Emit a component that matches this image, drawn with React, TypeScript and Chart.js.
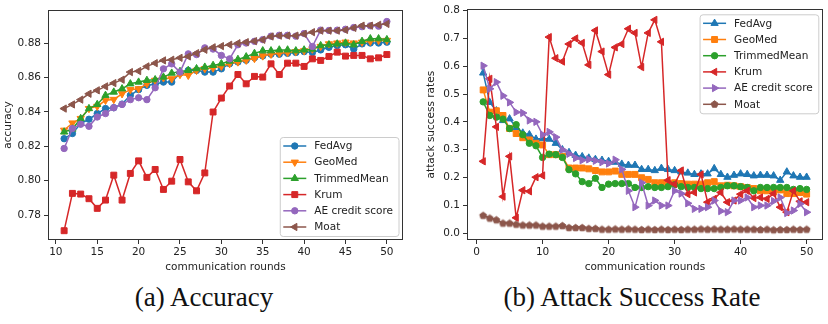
import React, { useEffect, useRef } from 'react';
import { Chart, registerables } from 'chart.js';

Chart.register(...registerables);

// ---------- data: (a) accuracy ----------
const accRounds = [11, 12, 13, 14, 15, 16, 17, 18, 19, 20, 21, 22, 23, 24, 25, 26, 27, 28, 29, 30,
  31, 32, 33, 34, 35, 36, 37, 38, 39, 40, 41, 42, 43, 44, 45, 46, 47, 48, 49, 50];

const accFedAvg = [0.8244, 0.8274, 0.8332, 0.8357, 0.8390, 0.8419, 0.8424, 0.8445, 0.8496, 0.8529,
  0.8554, 0.8560, 0.8573, 0.8573, 0.8625, 0.8641, 0.8641, 0.8631, 0.8631, 0.8650,
  0.8680, 0.8690, 0.8700, 0.8715, 0.8725, 0.8735, 0.8735, 0.8740, 0.8745, 0.8750,
  0.8745, 0.8760, 0.8775, 0.8785, 0.8790, 0.8765, 0.8795, 0.8800, 0.8800, 0.8805];
const accGeoMed = [0.8293, 0.8335, 0.8361, 0.8419, 0.8432, 0.8467, 0.8472, 0.8505, 0.8529, 0.8534,
  0.8563, 0.8583, 0.8598, 0.8592, 0.8617, 0.8612, 0.8641, 0.8651, 0.8655, 0.8665,
  0.8680, 0.8690, 0.8700, 0.8710, 0.8725, 0.8735, 0.8740, 0.8745, 0.8750, 0.8755,
  0.8765, 0.8780, 0.8795, 0.8800, 0.8805, 0.8800, 0.8805, 0.8810, 0.8815, 0.8815];
const accTrimmedMean = [0.8283, 0.8300, 0.8361, 0.8419, 0.8443, 0.8496, 0.8515, 0.8534, 0.8563, 0.8573,
  0.8583, 0.8587, 0.8602, 0.8625, 0.8635, 0.8641, 0.8651, 0.8660, 0.8670, 0.8680,
  0.8695, 0.8705, 0.8720, 0.8740, 0.8755, 0.8755, 0.8760, 0.8760, 0.8755, 0.8760,
  0.8765, 0.8785, 0.8790, 0.8795, 0.8800, 0.8790, 0.8810, 0.8825, 0.8825, 0.8820];
const accKrum = [0.7709, 0.7926, 0.7922, 0.7895, 0.7839, 0.7887, 0.8032, 0.7887, 0.8042, 0.8115,
  0.8019, 0.8065, 0.7949, 0.7997, 0.8123, 0.7993, 0.7941, 0.8045, 0.8399, 0.8480,
  0.8550, 0.8617, 0.8563, 0.8606, 0.8602, 0.8679, 0.8617, 0.8683, 0.8683, 0.8664,
  0.8708, 0.8699, 0.8722, 0.8747, 0.8724, 0.8728, 0.8728, 0.8708, 0.8714, 0.8733];
const accAECredit = [0.8187, 0.8303, 0.8328, 0.8316, 0.8370, 0.8390, 0.8424, 0.8443, 0.8471, 0.8482,
  0.8471, 0.8540, 0.8650, 0.8679, 0.8631, 0.8737, 0.8733, 0.8772, 0.8765, 0.8728,
  0.8708, 0.8790, 0.8800, 0.8810, 0.8820, 0.8840, 0.8845, 0.8845, 0.8840, 0.8855,
  0.8780, 0.8875, 0.8873, 0.8875, 0.8880, 0.8890, 0.8895, 0.8900, 0.8898, 0.8925];
const accMoat = [0.8419, 0.8443, 0.8471, 0.8505, 0.8525, 0.8548, 0.8567, 0.8587, 0.8631, 0.8637,
  0.8664, 0.8683, 0.8699, 0.8703, 0.8714, 0.8722, 0.8741, 0.8761, 0.8775, 0.8782,
  0.8790, 0.8799, 0.8805, 0.8811, 0.8819, 0.8838, 0.8843, 0.8843, 0.8843, 0.8853,
  0.8863, 0.8872, 0.8872, 0.8872, 0.8876, 0.8888, 0.8901, 0.8901, 0.8906, 0.8911];

const accXTicks = [10, 15, 20, 25, 30, 35, 40, 45, 50];
const accYTicks = [0.78, 0.80, 0.82, 0.84, 0.86, 0.88];

// ---------- data: (b) attack success rate ----------
const asrRounds = [1, 2, 3, 4, 5, 6, 7, 8, 9, 10, 11, 12, 13, 14, 15, 16, 17, 18, 19, 20,
  21, 22, 23, 24, 25, 26, 27, 28, 29, 30, 31, 32, 33, 34, 35, 36, 37, 38, 39, 40,
  41, 42, 43, 44, 45, 46, 47, 48, 49, 50];

const asrFedAvg = [0.576, 0.470, 0.440, 0.405, 0.411, 0.380, 0.360, 0.354, 0.338, 0.340,
  0.338, 0.323, 0.300, 0.290, 0.280, 0.275, 0.270, 0.265, 0.262, 0.258,
  0.255, 0.248, 0.244, 0.244, 0.229, 0.229, 0.225, 0.233, 0.229, 0.225,
  0.220, 0.216, 0.211, 0.213, 0.213, 0.232, 0.211, 0.201, 0.208, 0.213,
  0.211, 0.206, 0.208, 0.208, 0.206, 0.190, 0.220, 0.206, 0.201, 0.201];
const asrGeoMed = [0.515, 0.435, 0.440, 0.423, 0.376, 0.358, 0.343, 0.335, 0.323, 0.317,
  0.282, 0.282, 0.276, 0.234, 0.234, 0.234, 0.231, 0.225, 0.220, 0.220,
  0.223, 0.211, 0.211, 0.211, 0.199, 0.193, 0.181, 0.181, 0.178, 0.181,
  0.178, 0.176, 0.176, 0.176, 0.181, 0.185, 0.170, 0.172, 0.170, 0.167,
  0.164, 0.160, 0.152, 0.152, 0.148, 0.155, 0.142, 0.142, 0.146, 0.140];
const asrTrimmedMean = [0.472, 0.423, 0.417, 0.410, 0.376, 0.390, 0.354, 0.323, 0.314, 0.272,
  0.284, 0.282, 0.272, 0.228, 0.213, 0.185, 0.178, 0.197, 0.164, 0.176,
  0.178, 0.178, 0.178, 0.164, 0.164, 0.167, 0.164, 0.164, 0.167, 0.174,
  0.167, 0.164, 0.164, 0.160, 0.160, 0.160, 0.164, 0.170, 0.170, 0.167,
  0.164, 0.152, 0.164, 0.164, 0.164, 0.164, 0.164, 0.157, 0.160, 0.157];
const asrKrum = [0.258, 0.555, 0.382, 0.131, 0.276, 0.055, 0.154, 0.150, 0.201, 0.207,
  0.705, 0.629, 0.617, 0.680, 0.700, 0.684, 0.605, 0.729, 0.653, 0.570,
  0.668, 0.680, 0.735, 0.720, 0.597, 0.720, 0.767, 0.688, 0.190, 0.176,
  0.225, 0.140, 0.146, 0.211, 0.111, 0.123, 0.146, 0.111, 0.117, 0.140,
  0.152, 0.126, 0.128, 0.123, 0.142, 0.093, 0.075, 0.152, 0.114, 0.111];
const asrAECredit = [0.602, 0.519, 0.543, 0.494, 0.470, 0.435, 0.432, 0.405, 0.400, 0.354,
  0.364, 0.345, 0.300, 0.285, 0.270, 0.262, 0.265, 0.260, 0.255, 0.250,
  0.264, 0.229, 0.152, 0.093, 0.181, 0.099, 0.117, 0.099, 0.099, 0.152,
  0.142, 0.107, 0.087, 0.087, 0.093, 0.117, 0.079, 0.075, 0.117, 0.117,
  0.128, 0.093, 0.099, 0.099, 0.115, 0.128, 0.072, 0.081, 0.105, 0.075];
const asrMoat = [0.064, 0.054, 0.048, 0.036, 0.036, 0.032, 0.029, 0.029, 0.029, 0.025,
  0.025, 0.025, 0.027, 0.020, 0.020, 0.020, 0.017, 0.017, 0.014, 0.014,
  0.015, 0.014, 0.015, 0.014, 0.013, 0.014, 0.013, 0.014, 0.013, 0.014,
  0.013, 0.014, 0.014, 0.015, 0.014, 0.015, 0.014, 0.014, 0.015, 0.014,
  0.014, 0.014, 0.013, 0.014, 0.012, 0.013, 0.013, 0.014, 0.013, 0.014];

const asrXTicks = [0, 10, 20, 30, 40, 50];
const asrYTicks = [0.0, 0.1, 0.2, 0.3, 0.4, 0.5, 0.6, 0.7, 0.8];

const seriesNames = ['FedAvg', 'GeoMed', 'TrimmedMean', 'Krum', 'AE credit score', 'Moat'];
const seriesColors = ['#1f77b4', '#ff7f0e', '#2ca02c', '#d62728', '#9467bd', '#8c564b'];

type Marker = { shape: string; rot: number; r: number };

const accMarkers: Marker[] = [
  { shape: 'circle', rot: 0, r: 3.2 },
  { shape: 'triangle', rot: 180, r: 4.2 },
  { shape: 'triangle', rot: 0, r: 4.2 },
  { shape: 'rect', rot: 0, r: 4.2 },
  { shape: 'circle', rot: 0, r: 3.2 },
  { shape: 'triangle', rot: 270, r: 4.2 },
];
const asrMarkers: Marker[] = [
  { shape: 'triangle', rot: 0, r: 4.2 },
  { shape: 'rect', rot: 0, r: 4.2 },
  { shape: 'circle', rot: 0, r: 3.2 },
  { shape: 'triangle', rot: 270, r: 4.2 },
  { shape: 'triangle', rot: 90, r: 4.2 },
  { shape: 'pentagon', rot: 0, r: 3.6 },
];

const FONT = '"DejaVu Sans", "Noto Sans", sans-serif';
const TEXT = '#222222';
const AXIS = '#333333';

function pentagonPath(ctx: CanvasRenderingContext2D, x: number, y: number, r: number) {
  ctx.beginPath();
  for (let k = 0; k < 5; k++) {
    const a = -Math.PI / 2 + (k * 2 * Math.PI) / 5;
    const px = x + r * Math.cos(a);
    const py = y + r * Math.sin(a);
    if (k === 0) ctx.moveTo(px, py); else ctx.lineTo(px, py);
  }
  ctx.closePath();
}

function makePentagon(color: string, r: number) {
  const c = document.createElement('canvas');
  const s = Math.ceil(2 * r + 3);
  c.width = s; c.height = s;
  const ctx = c.getContext('2d')!;
  pentagonPath(ctx, s / 2, s / 2 + 0.4, r);
  ctx.fillStyle = color; ctx.strokeStyle = color; ctx.lineWidth = 1;
  ctx.fill(); ctx.stroke();
  return c;
}

function drawMarker(ctx: CanvasRenderingContext2D, m: Marker, x: number, y: number, color: string) {
  ctx.save();
  ctx.fillStyle = color; ctx.strokeStyle = color; ctx.lineWidth = 1;
  if (m.shape === 'circle') {
    ctx.beginPath(); ctx.arc(x, y, m.r, 0, Math.PI * 2);
  } else if (m.shape === 'rect') {
    const s = Math.SQRT1_2 * m.r;
    ctx.beginPath(); ctx.rect(x - s, y - s, 2 * s, 2 * s);
  } else if (m.shape === 'triangle') {
    let rad = (m.rot * Math.PI) / 180;
    ctx.beginPath();
    ctx.moveTo(x + Math.sin(rad) * m.r, y - Math.cos(rad) * m.r);
    rad += (2 * Math.PI) / 3;
    ctx.lineTo(x + Math.sin(rad) * m.r, y - Math.cos(rad) * m.r);
    rad += (2 * Math.PI) / 3;
    ctx.lineTo(x + Math.sin(rad) * m.r, y - Math.cos(rad) * m.r);
    ctx.closePath();
  } else {
    pentagonPath(ctx, x, y, m.r);
  }
  ctx.fill(); ctx.stroke();
  ctx.restore();
}

const framePlugin = {
  id: 'frameAndLegend',
  afterDatasetsDraw(chart: any, _args: any, opts: any) {
    const ctx: CanvasRenderingContext2D = chart.ctx;
    const ca = chart.chartArea;
    ctx.save();
    ctx.strokeStyle = AXIS;
    ctx.lineWidth = 1;
    ctx.strokeRect(Math.round(ca.left) + 0.5, Math.round(ca.top) + 0.5,
      Math.round(ca.right - ca.left) - 1, Math.round(ca.bottom - ca.top) - 1);

    // legend inside plot
    const markers: Marker[] = opts.markers;
    ctx.font = '10.5px ' + FONT;
    let maxW = 0;
    seriesNames.forEach((n) => { maxW = Math.max(maxW, ctx.measureText(n).width); });
    const w = 34 + maxW + 6;
    const h = 99;
    const left = ca.right - opts.right - w;
    const top = opts.corner === 'br' ? ca.bottom - opts.bottom - h : ca.top + opts.top;
    ctx.beginPath();
    (ctx as any).roundRect(left, top, w, h, 3);
    ctx.fillStyle = 'rgba(255,255,255,0.8)';
    ctx.fill();
    ctx.strokeStyle = '#cccccc';
    ctx.lineWidth = 1;
    ctx.stroke();
    seriesNames.forEach((n, i) => {
      const cy = top + 8.5 + i * 16.2;
      ctx.beginPath();
      ctx.strokeStyle = seriesColors[i];
      ctx.lineWidth = 1.5;
      ctx.moveTo(left + 3, cy);
      ctx.lineTo(left + 26, cy);
      ctx.stroke();
      drawMarker(ctx, markers[i], left + 14.5, cy, seriesColors[i]);
      ctx.fillStyle = TEXT;
      ctx.textBaseline = 'middle';
      ctx.textAlign = 'left';
      ctx.fillText(n, left + 34, cy + 0.5);
    });
    ctx.restore();
  },
};

function buildChart(
  canvas: HTMLCanvasElement,
  rounds: number[],
  values: number[][],
  markers: Marker[],
  cfg: any,
) {
  const datasets = values.map((vals, i) => {
    const m = markers[i];
    const pointStyle: any = m.shape === 'pentagon' ? makePentagon(seriesColors[i], m.r) : m.shape;
    return {
      label: seriesNames[i],
      data: rounds.map((r, j) => ({ x: r, y: vals[j] })),
      borderColor: seriesColors[i],
      backgroundColor: seriesColors[i],
      borderWidth: 1.5,
      pointStyle,
      pointRotation: m.rot,
      pointRadius: m.r,
      pointBorderWidth: 1,
      pointBackgroundColor: seriesColors[i],
      pointBorderColor: seriesColors[i],
      pointHoverRadius: m.r,
      tension: 0,
      fill: false,
      order: values.length - i,
    };
  });
  const tickFont = { family: FONT, size: 10.5 };
  return new Chart(canvas, {
    type: 'line',
    data: { datasets },
    options: {
      animation: false,
      responsive: false,
      maintainAspectRatio: false,
      events: [],
      layout: { padding: { left: 0, right: cfg.padRight, top: cfg.padTop, bottom: 0 } },
      plugins: {
        legend: { display: false },
        tooltip: { enabled: false },
        frameAndLegend: cfg.legend,
      } as any,
      scales: {
        x: {
          type: 'linear',
          min: cfg.xMin,
          max: cfg.xMax,
          afterBuildTicks: (s: any) => { s.ticks = cfg.xTicks.map((v: number) => ({ value: v })); },
          afterFit: (s: any) => { s.height = cfg.xAxisHeight; },
          grid: { display: true, drawOnChartArea: false, drawTicks: true, tickLength: 4, color: AXIS, tickColor: AXIS, lineWidth: 1 },
          border: { display: false },
          ticks: { font: tickFont, color: TEXT, padding: 2, maxRotation: 0, autoSkip: false, callback: (v: any) => String(v) },
          title: { display: true, text: 'communication rounds', font: tickFont, color: TEXT, padding: { top: 0, bottom: cfg.xTitlePad } },
        },
        y: {
          type: 'linear',
          min: cfg.yMin,
          max: cfg.yMax,
          afterBuildTicks: (s: any) => { s.ticks = cfg.yTicks.map((v: number) => ({ value: v })); },
          afterFit: (s: any) => { s.width = cfg.yAxisWidth; },
          grid: { display: true, drawOnChartArea: false, drawTicks: true, tickLength: 4, color: AXIS, tickColor: AXIS, lineWidth: 1 },
          border: { display: false },
          ticks: { font: tickFont, color: TEXT, padding: 3, autoSkip: false, callback: (v: any) => Number(v).toFixed(cfg.yDigits) },
          title: { display: true, text: cfg.yTitle, font: tickFont, color: TEXT, padding: { top: cfg.yTitlePad, bottom: 0 } },
        },
      },
    } as any,
    plugins: [framePlugin],
  });
}

export default function App() {
  const leftRef = useRef<HTMLCanvasElement | null>(null);
  const rightRef = useRef<HTMLCanvasElement | null>(null);

  useEffect(() => {
    const left = buildChart(
      leftRef.current!,
      accRounds,
      [accFedAvg, accGeoMed, accTrimmedMean, accKrum, accAECredit, accMoat],
      accMarkers,
      {
        padRight: 11, padTop: 10, xMin: 9.05, xMax: 51.95, xTicks: accXTicks, xAxisHeight: 40,
        yMin: 0.7655, yMax: 0.8992, yTicks: accYTicks, yAxisWidth: 48, yDigits: 2,
        yTitle: 'accuracy', yTitlePad: 2, xTitlePad: 6,
        legend: { markers: accMarkers, corner: 'br', right: 4, bottom: 3.5 },
      },
    );
    const right = buildChart(
      rightRef.current!,
      asrRounds,
      [asrFedAvg, asrGeoMed, asrTrimmedMean, asrKrum, asrAECredit, asrMoat],
      asrMarkers,
      {
        padRight: 3, padTop: 6, xMin: -1.45, xMax: 52.45, xTicks: asrXTicks, xAxisHeight: 40,
        yMin: -0.025, yMax: 0.805, yTicks: asrYTicks, yAxisWidth: 53, yDigits: 1,
        yTitle: 'attack success rates', yTitlePad: 11, xTitlePad: 6,
        legend: { markers: asrMarkers, corner: 'tr', right: 4, top: 5.5 },
      },
    );
    return () => { left.destroy(); right.destroy(); };
  }, []);

  const caption: React.CSSProperties = {
    position: 'absolute',
    top: 284,
    fontFamily: '"Liberation Serif", "DejaVu Serif", serif',
    fontSize: 27,
    lineHeight: '27px',
    color: '#111',
    whiteSpace: 'nowrap',
    transform: 'translateX(-50%)',
  };

  return (
    <div style={{ position: 'absolute', left: 0, top: 0, width: 828, height: 324, background: '#fff', overflow: 'hidden' }}>
      <canvas ref={leftRef} width={414} height={280} style={{ position: 'absolute', left: 0, top: 0, width: 414, height: 280 }} />
      <canvas ref={rightRef} width={414} height={280} style={{ position: 'absolute', left: 414, top: 0, width: 414, height: 280 }} />
      <div style={{ ...caption, left: 204 }}>(a) Accuracy</div>
      <div style={{ ...caption, left: 632 }}>(b) Attack Success Rate</div>
    </div>
  );
}
